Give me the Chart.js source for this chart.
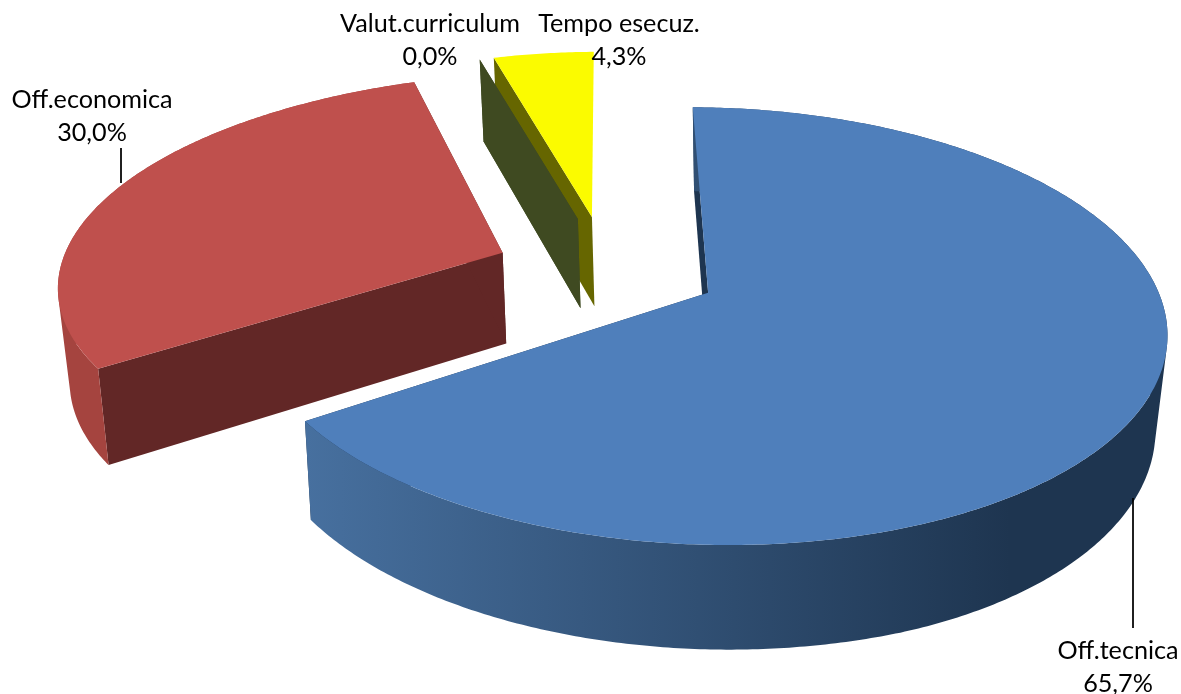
<!DOCTYPE html>
<html>
<head>
<meta charset="utf-8">
<title>Punteggi</title>
<style>
  html, body { margin: 0; padding: 0; background: #fff; }
  canvas { display: block; }
</style>
<script src="https://cdn.jsdelivr.net/npm/chart.js@4"></script>
</head>
<body>
<canvas id="myChart" width="1181" height="694"></canvas>
<script>
// chart values
var categories = ["Off.tecnica", "Off.economica", "Valut.curriculum", "Tempo esecuz."];
var shares = [65.7, 30.0, 0.0, 4.3];

// colours per slice
var topColors = ["#4f7fbb", "#bf504d", "#9bbb59", "#fbfb00"];
var wallColors = ["#1e3550", "#622726", "#3f4a21", "#666600"];
var rimColors = ["#1e3550", "#a5443f", "#3f4a21", "#666600"];
var slicePull = [76, 82, 77, 77];
var paintOrder = [3, 2, 1, 0];

// where the labels sit: centre x, first baseline
var labelSpots = [[1118, 659], [92, 108], [430, 32], [619, 32]];
var LINE_GAP = 33;
var leaders = [[121, 148, 121, 183], [1133, 498, 1133, 628]];

// tilted view: the chart centre lands here, pull is squashed by ax / ay
var view = { cx: 612, cy: 270, ax: 428, ay: 214 };
// each slice has its own perspective, the far ones shrink differently
var lenses = [
    { a: 453, b: -6, c: 12, d: 213.4, p: 0.153, q: 0.004 },
    { a: 457, b: -49.2, c: 5, d: 198.1, p: 0.1, q: 0.05 },
    { a: 427, b: -24.5, c: 5.6, d: 190, p: 0.15, q: 0 },
    { a: 427, b: -24.5, c: 5.6, d: 190, p: 0.15, q: 0 }
];

function sliceGeometry(el, lens) {
    var mid = (el.startAngle + el.endAngle) / 2;
    var pull = el.options.offset / el.outerRadius;
    return {
        x0: view.cx + view.ax * Math.cos(mid) * pull,
        y0: view.cy + view.ay * Math.sin(mid) * pull,
        start: el.startAngle,
        end: el.endAngle,
        lens: lens
    };
}

// r = 0 is the apex, r = 1 the rim
function project(g, angle, r, low) {
    var l = g.lens;
    var c = r * Math.cos(angle), s = r * Math.sin(angle);
    var w = 1 - l.p * s - l.q * c;
    var x = g.x0 + (l.a * c + l.b * s) / w;
    var y = g.y0 + (l.c * c + l.d * s) / w;
    if (low) {
        // bottom face: deeper towards the viewer, narrower than the top
        y += 79 + 0.047 * y;
        if (x < 200) x += 0.02 * (200 - x);
        if (x < 800) x += 0.012 * (800 - x);
        else if (x > 900) x -= 0.045 * (x - 900);
    }
    return [x, y];
}

function rimPoints(g, low) {
    var pts = [];
    var steps = Math.max(1, Math.ceil((g.end - g.start) / 0.01));
    for (var i = 0; i <= steps; i++) {
        pts.push(project(g, g.start + (g.end - g.start) * i / steps, 1, low));
    }
    return pts;
}

function fillPoly(ctx, pts, color) {
    ctx.beginPath();
    pts.forEach(function (p, i) {
        if (i === 0) ctx.moveTo(p[0], p[1]);
        else ctx.lineTo(p[0], p[1]);
    });
    ctx.closePath();
    ctx.fillStyle = color;
    ctx.fill();
}

function signedArea(q) {
    var sum = 0;
    for (var i = 0; i < q.length; i++) {
        var n = q[(i + 1) % q.length];
        sum += q[i][0] * n[1] - n[0] * q[i][1];
    }
    return sum;
}

// the swept side of the slice, all pieces wound the same way so one fill covers them
function fillRim(ctx, top, bottom, color) {
    ctx.beginPath();
    for (var i = 0; i < top.length - 1; i++) {
        var quad = [top[i], top[i + 1], bottom[i + 1], bottom[i]];
        if (signedArea(quad) < 0) quad.reverse();
        ctx.moveTo(quad[0][0], quad[0][1]);
        ctx.lineTo(quad[1][0], quad[1][1]);
        ctx.lineTo(quad[2][0], quad[2][1]);
        ctx.lineTo(quad[3][0], quad[3][1]);
        ctx.closePath();
    }
    ctx.fillStyle = color;
    ctx.fill();
}

function drawEdgeWall(ctx, g, angle, color) {
    fillPoly(ctx, [
        project(g, angle, 0, false),
        project(g, angle, 1, false),
        project(g, angle, 1, true),
        project(g, angle, 0, true)
    ], color);
}

var pie3d = {
    id: "pie3d",
    beforeDatasetsDraw: function (chart) {
        var ctx = chart.ctx;
        var arcs = chart.getDatasetMeta(0).data;
        var blueRim = ctx.createLinearGradient(305, 0, 1010, 0);
        blueRim.addColorStop(0, "#47709f");
        blueRim.addColorStop(1, "#1e3550");

        paintOrder.forEach(function (i) {
            var g = sliceGeometry(arcs[i], lenses[i]);
            var top = rimPoints(g, false);
            var bottom = rimPoints(g, true);
            drawEdgeWall(ctx, g, g.start, wallColors[i]);
            // the yellow slice shows only its left wall
            if (i !== 3) drawEdgeWall(ctx, g, g.end, wallColors[i]);
            if (g.end > g.start) {
                if (i !== 3) fillRim(ctx, top, bottom, i === 0 ? blueRim : rimColors[i]);
                fillPoly(ctx, [project(g, g.start, 0, false)].concat(top), topColors[i]);
            }
        });
        return false;
    },
    afterDraw: function (chart) {
        var ctx = chart.ctx;
        ctx.save();
        ctx.strokeStyle = "#000";
        ctx.lineWidth = 1.75;
        leaders.forEach(function (l) {
            ctx.beginPath();
            ctx.moveTo(l[0], l[1]);
            ctx.lineTo(l[2], l[3]);
            ctx.stroke();
        });
        ctx.fillStyle = "#000";
        ctx.font = "25.2px Lato";
        ctx.textAlign = "center";
        ctx.textBaseline = "alphabetic";
        categories.forEach(function (name, i) {
            var spot = labelSpots[i];
            ctx.fillText(name, spot[0], spot[1]);
            ctx.fillText(shares[i].toFixed(1).replace(".", ",") + "%", spot[0], spot[1] + LINE_GAP);
        });
        ctx.restore();
    }
};

var myChart = new Chart(document.getElementById("myChart").getContext("2d"), {
    type: "pie",
    data: {
        labels: categories,
        datasets: [{
            data: shares,
            backgroundColor: topColors,
            offset: slicePull,
            borderWidth: 0
        }]
    },
    options: {
        responsive: false,
        animation: false,
        rotation: -3,
        layout: { padding: 0 },
        plugins: {
            legend: { display: false },
            tooltip: { enabled: false }
        }
    },
    plugins: [pie3d]
});
</script>
</body>
</html>
